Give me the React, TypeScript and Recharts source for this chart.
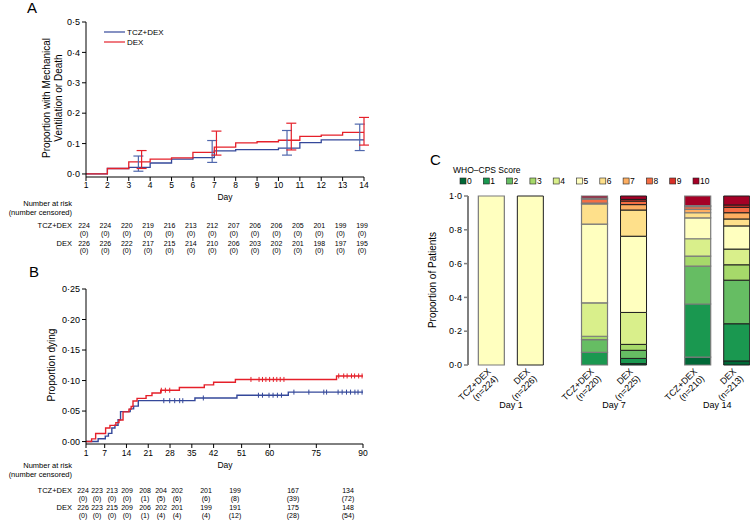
import React from "react";
import {
  ComposedChart,
  BarChart,
  Bar,
  Line,
  Scatter,
  ErrorBar,
  XAxis,
  YAxis,
} from "recharts";

const FONT = '"Liberation Sans", Arial, Helvetica, sans-serif';
const BLUE = "#34489a";
const BLUE_CI = "#5068ad";
const RED = "#e5202a";
const AXIS_GREY = "#7f7f7f";

// ---- Panel A: mechanical ventilation or death, days 1-14 ----
const daysA = [1, 2, 3, 4, 5, 6, 7, 8, 9, 10, 11, 12, 13, 14];
const ventTcz = [0, 0.018, 0.022, 0.036, 0.049, 0.054, 0.076, 0.08, 0.08, 0.085, 0.103, 0.112, 0.112, 0.112];
const ventDex = [0, 0.018, 0.04, 0.049, 0.053, 0.071, 0.088, 0.102, 0.106, 0.111, 0.124, 0.128, 0.137, 0.137];

const ciDaysTcz = [3.45, 6.9, 10.4, 13.8];
const ciMidTcz = [0.022, 0.076, 0.085, 0.112];
const ciLowTcz = [0.009, 0.038, 0.062, 0.077];
const ciHighTcz = [0.059, 0.11, 0.143, 0.164];
const ciDaysDex = [3.6, 7.1, 10.6, 14];
const ciMidDex = [0.04, 0.088, 0.111, 0.137];
const ciLowDex = [0.018, 0.062, 0.079, 0.095];
const ciHighDex = [0.077, 0.141, 0.167, 0.186];

const riskTczA = [224, 224, 220, 219, 216, 213, 212, 207, 206, 206, 205, 201, 199, 199];
const censTczA = [0, 0, 0, 0, 0, 0, 0, 0, 0, 0, 0, 0, 0, 0];
const riskDexA = [226, 226, 222, 217, 215, 214, 210, 206, 203, 202, 201, 198, 197, 195];
const censDexA = [0, 0, 0, 0, 0, 0, 0, 0, 0, 0, 0, 0, 0, 0];

// ---- Panel B: proportion dying, days 1-90 ----
const daysB = [1, 7, 14, 21, 28, 35, 42, 51, 60, 75, 90];
const stepDaysTczB = [1, 4.9, 7.2, 8.2, 9.3, 10.3, 11.3, 12.1, 15.2, 16.3, 17.8, 36, 49.5, 66, 90];
const stepValsTczB = [0, 0.0045, 0.0089, 0.0134, 0.0223, 0.0268, 0.0357, 0.0491, 0.0536, 0.058, 0.067, 0.0714, 0.0759, 0.081, 0.081];
const stepDaysDexB = [1, 2.8, 4.1, 7.3, 8.7, 10.6, 11.6, 12.9, 14.8, 15.5, 16.1, 17.4, 20.3, 22.2, 25, 31, 39, 42, 49, 81.5, 90];
const stepValsDexB = [0, 0.0044, 0.0133, 0.0221, 0.0265, 0.031, 0.0354, 0.0487, 0.0531, 0.0575, 0.0664, 0.0708, 0.0752, 0.0796, 0.0841, 0.0885, 0.0929, 0.0973, 0.1018, 0.1075, 0.1075];
const censorTczB = [26, 27.9, 29.5, 31.1, 32.1, 38.7, 56.4, 57.7, 59.8, 61.1, 62.5, 63.8, 67.8, 72.6, 77.4, 78.3, 82, 83.3, 84.7, 86, 87.4, 88.4, 89.7];
const censorDexB = [25.2, 26.5, 27.9, 54, 56.6, 57.7, 58.8, 60, 61.2, 62.3, 63.4, 64.6, 82.2, 83.8, 84.9, 86.3, 87.3, 88.6, 89.7];

const riskTczB = [224, 223, 213, 209, 208, 204, 202, 201, 199, 167, 134];
const censTczB = [0, 0, 0, 0, 1, 5, 6, 6, 8, 39, 72];
const riskDexB = [226, 223, 215, 209, 206, 202, 201, 199, 191, 175, 148];
const censDexB = [0, 0, 0, 0, 1, 4, 4, 4, 12, 28, 54];

// ---- Panel C: WHO-CPS score distribution ----
const visitDays = ["Day 1", "Day 7", "Day 14"];
const tczN = [224, 220, 210];
const dexN = [226, 225, 213];
const scoreLabels = ["0", "1", "2", "3", "4", "5", "6", "7", "8", "9", "10"];
const scoreColors = ["#006837", "#1a9850", "#66bd63", "#a6d96a", "#d9ef8b", "#ffffbf", "#fee08b", "#fdae61", "#f46d43", "#d73027", "#a50026"];
const tczDay1 = [0, 0, 0, 0, 0, 1, 0, 0, 0, 0, 0];
const dexDay1 = [0, 0, 0, 0, 0, 1, 0, 0, 0, 0, 0];
const tczDay7 = [0, 0.075, 0.075, 0.02, 0.198, 0.465, 0.12, 0.005, 0.024, 0.006, 0.012];
const dexDay7 = [0.008, 0.031, 0.048, 0.035, 0.189, 0.451, 0.155, 0.032, 0.021, 0.01, 0.02];
const tczDay14 = [0.047, 0.314, 0.224, 0.059, 0.103, 0.123, 0.031, 0.02, 0.016, 0.006, 0.057];
const dexDay14 = [0.024, 0.22, 0.258, 0.091, 0.093, 0.137, 0.041, 0.037, 0.032, 0.014, 0.053];

// layout constants
const BAR_SIZE = 26;
const BAR_GAP = 13;
const C_DOMAIN = [-0.416, 2.317];
const TABLE_B_COLS = [83, 97, 112, 127, 145, 161, 177, 206, 235, 293, 348];

function stepAt(days: number[], vals: number[], d: number) {
  let v = vals[0];
  days.forEach((day, i) => {
    if (day <= d) v = vals[i];
  });
  return v;
}

const dot = (digits: number) => (v: number) => v.toFixed(digits).replace(".", "\u00b7");

const ventTczData = daysA.map((day, i) => ({ day, p: ventTcz[i] }));
const ventDexData = daysA.map((day, i) => ({ day, p: ventDex[i] }));
const ciTczData = ciDaysTcz.map((day, i) => ({
  day,
  p: ciMidTcz[i],
  err: [ciMidTcz[i] - ciLowTcz[i], ciHighTcz[i] - ciMidTcz[i]],
}));
const ciDexData = ciDaysDex.map((day, i) => ({
  day,
  p: ciMidDex[i],
  err: [ciMidDex[i] - ciLowDex[i], ciHighDex[i] - ciMidDex[i]],
}));

const deathTczData = stepDaysTczB.map((day, i) => ({ day, p: stepValsTczB[i] }));
const deathDexData = stepDaysDexB.map((day, i) => ({ day, p: stepValsDexB[i] }));
const censTczData = censorTczB.map((day) => ({ day, p: stepAt(stepDaysTczB, stepValsTczB, day) }));
const censDexData = censorDexB.map((day) => ({ day, p: stepAt(stepDaysDexB, stepValsDexB, day) }));

const tczByVisit = [tczDay1, tczDay7, tczDay14];
const dexByVisit = [dexDay1, dexDay7, dexDay14];
const wardData = visitDays.map((day, i) => {
  const row: Record<string, number | string> = { day, pos: i };
  scoreLabels.forEach((_, s) => {
    row[`tcz${s}`] = tczByVisit[i][s];
    row[`dex${s}`] = dexByVisit[i][s];
  });
  return row;
});

const tickFont = { fontSize: 9, fill: "#000", fontFamily: FONT };

// eslint-disable-next-line @typescript-eslint/no-explicit-any
function RiskTickA(props: any) {
  const { x, y, payload, index } = props;
  const col = x - 2;
  return (
    <g fontFamily={FONT} fill="#000" textAnchor="middle">
      <text x={x} y={y + 5} fontSize={8.5}>{payload.value}</text>
      <text x={col} y={y + 45} fontSize={7}>{riskTczA[index]}</text>
      <text x={col} y={y + 53} fontSize={7}>({censTczA[index]})</text>
      <text x={col} y={y + 63} fontSize={7}>{riskDexA[index]}</text>
      <text x={col} y={y + 70} fontSize={7}>({censDexA[index]})</text>
    </g>
  );
}

// eslint-disable-next-line @typescript-eslint/no-explicit-any
function DayTickB(props: any) {
  const { x, y, payload } = props;
  return (
    <text x={x} y={y + 6} fontSize={8.5} fontFamily={FONT} fill="#000" textAnchor="middle">
      {payload.value}
    </text>
  );
}

// eslint-disable-next-line @typescript-eslint/no-explicit-any
function VisitTick(props: any) {
  const { x, y, index } = props;
  const half = (BAR_SIZE + BAR_GAP) / 2;
  const groups: [string, number][] = [
    ["TCZ+DEX", tczN[index]],
    ["DEX", dexN[index]],
  ];
  return (
    <g fontFamily={FONT} fontSize={9} fill="#000">
      {groups.map(([name, n], k) => {
        const cx = x + (k === 0 ? -half : half);
        return (
          <text key={name} transform={`translate(${cx},${y + 7}) rotate(-45)`} textAnchor="end">
            <tspan x={0} dy={0}>{name}</tspan>
            <tspan x={0} dy={10}>(n={n})</tspan>
          </text>
        );
      })}
      <text x={x} y={y + 43} textAnchor="middle">{visitDays[index]}</text>
    </g>
  );
}

const censorMark = (color: string) =>
  // eslint-disable-next-line @typescript-eslint/no-explicit-any
  function CensorMark(props: any) {
    return (
      <line x1={props.cx} x2={props.cx} y1={props.cy - 2.5} y2={props.cy + 2.5} stroke={color} strokeWidth={1} />
    );
  };

const noDot = () => <g />;

function Overlay() {
  const hdr = { fontSize: 7.5, textAnchor: "end" as const };
  const cell = { fontSize: 7, textAnchor: "middle" as const };
  return (
    <svg width={750} height={529} style={{ position: "absolute", left: 0, top: 0, pointerEvents: "none" }}>
      <g fontFamily={FONT} fill="#000">
        <text x={27} y={13} fontSize={15}>A</text>
        <text x={29} y={277} fontSize={15}>B</text>
        <text x={430} y={165} fontSize={15}>C</text>

        {/* axis titles */}
        <text transform="translate(50,98) rotate(-90)" fontSize={10} textAnchor="middle">Proportion with Mechanical</text>
        <text transform="translate(62,98) rotate(-90)" fontSize={10} textAnchor="middle">Ventilation or Death</text>
        <text transform="translate(55,365) rotate(-90)" fontSize={10} textAnchor="middle">Proportion dying</text>
        <text transform="translate(436,280) rotate(-90)" fontSize={10} textAnchor="middle">Proportion of Patients</text>
        <text x={225} y={200} fontSize={8.5} textAnchor="middle">Day</text>
        <text x={225} y={468} fontSize={8.5} textAnchor="middle">Day</text>

        {/* legend A */}
        <line x1={104} x2={125} y1={32} y2={32} stroke={BLUE} strokeWidth={1.2} />
        <line x1={104} x2={125} y1={42} y2={42} stroke={RED} strokeWidth={1.2} />
        <text x={127} y={35} fontSize={8}>TCZ+DEX</text>
        <text x={127} y={45} fontSize={8}>DEX</text>

        {/* number at risk headers */}
        <text x={72} y={206} {...hdr}>Number at risk</text>
        <text x={72} y={215} {...hdr}>(number censored)</text>
        <text x={72} y={228} {...hdr}>TCZ+DEX</text>
        <text x={72} y={246} {...hdr}>DEX</text>
        <text x={72} y={468} {...hdr}>Number at risk</text>
        <text x={72} y={477} {...hdr}>(number censored)</text>
        <text x={72} y={493} {...hdr}>TCZ+DEX</text>
        <text x={72} y={510} {...hdr}>DEX</text>

        {/* table B */}
        {TABLE_B_COLS.map((cx, i) => (
          <g key={i}>
            <text x={cx} y={493} {...cell}>{riskTczB[i]}</text>
            <text x={cx} y={501} {...cell}>({censTczB[i]})</text>
            <text x={cx} y={510} {...cell}>{riskDexB[i]}</text>
            <text x={cx} y={518} {...cell}>({censDexB[i]})</text>
          </g>
        ))}

        {/* legend C */}
        <text x={453} y={173} fontSize={8.5}>WHO{"\u2013"}CPS Score</text>
        {scoreLabels.map((s, k) => (
          <g key={s}>
            <rect x={460 + k * 23.3} y={178} width={6} height={6} fill={scoreColors[k]} stroke="#222" strokeWidth={0.6} />
            <text x={467 + k * 23.3} y={184} fontSize={8.5}>{s}</text>
          </g>
        ))}
      </g>
    </svg>
  );
}

export default function App() {
  return (
    <div style={{ position: "absolute", left: 0, top: 0, width: 750, height: 529, background: "#fff", overflow: "hidden", fontFamily: FONT }}>
      <div style={{ position: "absolute", left: 0, top: 0 }}>
        <ComposedChart width={380} height={270} margin={{ top: 22, right: 16, bottom: 63, left: 56 }}>
          <XAxis
            type="number"
            dataKey="day"
            domain={[1, 14]}
            ticks={daysA}
            interval={0}
            tickSize={4}
            tickMargin={2}
            stroke="#000"
            tick={<RiskTickA />}
            allowDataOverflow
          />
          <YAxis
            type="number"
            domain={[-0.01, 0.5]}
            ticks={[0, 0.1, 0.2, 0.3, 0.4, 0.5]}
            width={30}
            tickSize={4}
            stroke="#000"
            tick={tickFont}
            tickFormatter={dot(1)}
            allowDataOverflow
          />
          <Line data={ventTczData} dataKey="p" type="stepAfter" stroke={BLUE} strokeWidth={1.3} dot={false} isAnimationActive={false} />
          <Line data={ventDexData} dataKey="p" type="stepAfter" stroke={RED} strokeWidth={1.3} dot={false} isAnimationActive={false} />
          <Scatter data={ciTczData} dataKey="p" shape={noDot} isAnimationActive={false}>
            <ErrorBar dataKey="err" direction="y" width={5} stroke={BLUE_CI} strokeWidth={1.2} isAnimationActive={false} />
          </Scatter>
          <Scatter data={ciDexData} dataKey="p" shape={noDot} isAnimationActive={false}>
            <ErrorBar dataKey="err" direction="y" width={5} stroke={RED} strokeWidth={1.2} isAnimationActive={false} />
          </Scatter>
        </ComposedChart>
      </div>

      <div style={{ position: "absolute", left: 0, top: 270 }}>
        <ComposedChart width={380} height={259} margin={{ top: 19, right: 17, bottom: 55, left: 56 }}>
          <XAxis
            type="number"
            dataKey="day"
            domain={[1, 90]}
            ticks={daysB}
            interval={0}
            tickSize={4}
            tickMargin={2}
            stroke="#000"
            tick={<DayTickB />}
            allowDataOverflow
          />
          <YAxis
            type="number"
            domain={[-0.004, 0.25]}
            ticks={[0, 0.05, 0.1, 0.15, 0.2, 0.25]}
            width={30}
            tickSize={4}
            stroke="#000"
            tick={tickFont}
            tickFormatter={dot(2)}
            allowDataOverflow
          />
          <Line data={deathTczData} dataKey="p" type="stepAfter" stroke={BLUE} strokeWidth={1.4} dot={false} isAnimationActive={false} />
          <Line data={deathDexData} dataKey="p" type="stepAfter" stroke={RED} strokeWidth={1.4} dot={false} isAnimationActive={false} />
          <Scatter data={censTczData} dataKey="p" shape={censorMark(BLUE)} isAnimationActive={false} />
          <Scatter data={censDexData} dataKey="p" shape={censorMark(RED)} isAnimationActive={false} />
        </ComposedChart>
      </div>

      <div style={{ position: "absolute", left: 420, top: 150 }}>
        <BarChart
          width={330}
          height={270}
          data={wardData}
          margin={{ top: 46, right: 0, bottom: 25, left: 18 }}
          barSize={BAR_SIZE}
          barGap={BAR_GAP}
        >
          <XAxis
            type="number"
            dataKey="pos"
            domain={C_DOMAIN}
            ticks={[0, 1, 2]}
            interval={0}
            axisLine={false}
            tickLine={false}
            tickSize={0}
            tickMargin={0}
            tick={<VisitTick />}
            allowDataOverflow
          />
          <YAxis
            type="number"
            domain={[0, 1]}
            ticks={[0, 0.2, 0.4, 0.6, 0.8, 1]}
            width={30}
            tickSize={4}
            axisLine={{ stroke: AXIS_GREY, strokeWidth: 2 }}
            tickLine={{ stroke: AXIS_GREY, strokeWidth: 1.5 }}
            tick={tickFont}
            tickFormatter={dot(1)}
          />
          {scoreLabels.map((s, k) => (
            <Bar key={`tcz${s}`} dataKey={`tcz${k}`} stackId="tcz" fill={scoreColors[k]} stroke="#7a7a7a" strokeWidth={1.2} isAnimationActive={false} />
          ))}
          {scoreLabels.map((s, k) => (
            <Bar key={`dex${s}`} dataKey={`dex${k}`} stackId="dex" fill={scoreColors[k]} stroke="#1e1e1e" strokeWidth={1} isAnimationActive={false} />
          ))}
        </BarChart>
      </div>

      <Overlay />
    </div>
  );
}
